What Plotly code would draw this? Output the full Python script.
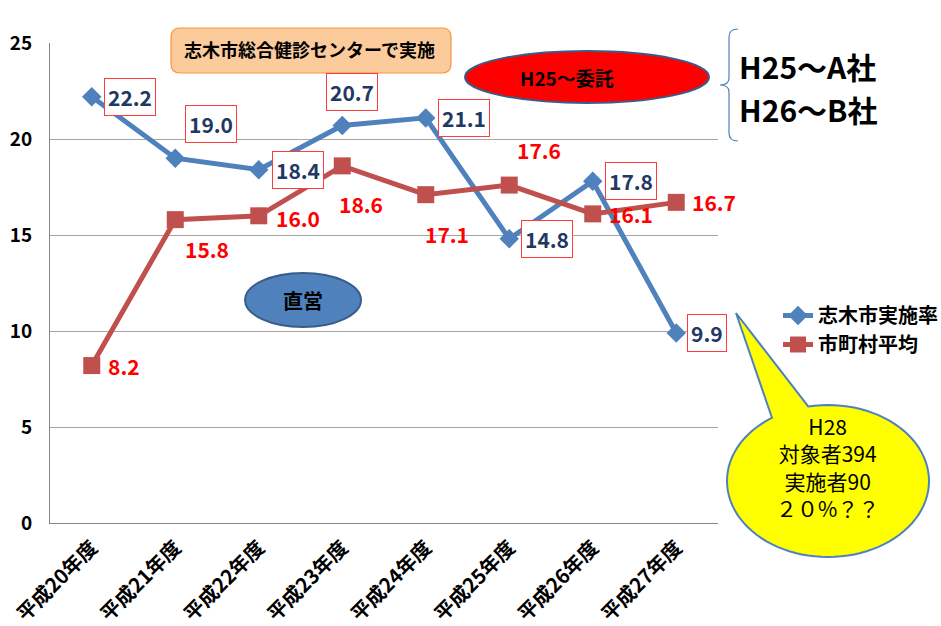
import math
import plotly.graph_objects as go

# ---- data ----
categories = ["平成20年度", "平成21年度", "平成22年度", "平成23年度",
              "平成24年度", "平成25年度", "平成26年度", "平成27年度"]
shiki_rate = [22.2, 19.0, 18.4, 20.7, 21.1, 14.8, 17.8, 9.9]
municipal_avg = [8.2, 15.8, 16.0, 18.6, 17.1, 17.6, 16.1, 16.7]
series_names = ["志木市実施率", "市町村平均"]
y_ticks = [0, 5, 10, 15, 20, 25]

# label offsets (pixels, yshift positive = up)
blue_offsets = [(38, 0), (36, 34), (39, 0), (10, 34), (38, 0), (38, 0), (38, 0), (31, 0)]
red_offsets = [(32, 0), (32, -29), (39, -2), (19, -38), (21, -39), (30, 35), (38, 0), (38, 0)]

W, H = 941, 626
L, R, T, B = 50, 223, 43, 103
PW, PH = W - L - R, H - T - B

def fx(px):
    return (px - L) / PW

def fy(py):
    return (H - B - py) / PH

FONT = "Noto Sans CJK JP, Noto Sans, sans-serif"
BLUE = "#4F81BD"
RED = "#C0504D"

fig = go.Figure()
fig.add_trace(go.Scatter(
    x=categories, y=shiki_rate, name=series_names[0], mode="lines+markers",
    line=dict(color=BLUE, width=5),
    marker=dict(symbol="diamond", size=15, color=BLUE),
))
fig.add_trace(go.Scatter(
    x=categories, y=municipal_avg, name=series_names[1], mode="lines+markers",
    line=dict(color=RED, width=5),
    marker=dict(symbol="square", size=17, color=RED),
))

annotations = []
for c, v, (dx, dy) in zip(categories, shiki_rate, blue_offsets):
    annotations.append(dict(
        x=c, y=v, xref="x", yref="y", text=f"<b>{v:.1f}</b>", showarrow=False,
        xanchor="center", yanchor="middle",
        xshift=dx, yshift=dy, font=dict(family=FONT, size=21, color="#1F3864"),
        bgcolor="white", bordercolor="#FF3B3B", borderwidth=1, borderpad=3,
    ))
for c, v, (dx, dy) in zip(categories, municipal_avg, red_offsets):
    annotations.append(dict(
        x=c, y=v, xref="x", yref="y", text=f"<b>{v:.1f}</b>", showarrow=False,
        xanchor="center", yanchor="middle",
        xshift=dx, yshift=dy, font=dict(family=FONT, size=21, color="#FF0000"),
    ))

def paper_text(px, py, text, size, bold=True, xanchor="center"):
    return dict(x=fx(px), y=fy(py), xref="paper", yref="paper",
                xanchor=xanchor, yanchor="middle",
                text=(f"<b>{text}</b>" if bold else text), showarrow=False,
                font=dict(family=FONT, size=size, color="black"))

shapes = []

# orange rounded box
def rounded_rect(x0, y0, x1, y1, r):
    return (f"M {fx(x0+r)},{fy(y0)} L {fx(x1-r)},{fy(y0)} Q {fx(x1)},{fy(y0)} {fx(x1)},{fy(y0+r)} "
            f"L {fx(x1)},{fy(y1-r)} Q {fx(x1)},{fy(y1)} {fx(x1-r)},{fy(y1)} "
            f"L {fx(x0+r)},{fy(y1)} Q {fx(x0)},{fy(y1)} {fx(x0)},{fy(y1-r)} "
            f"L {fx(x0)},{fy(y0+r)} Q {fx(x0)},{fy(y0)} {fx(x0+r)},{fy(y0)} Z")

shapes.append(dict(type="path", xref="paper", yref="paper",
                   path=rounded_rect(171, 28, 451, 73, 9),
                   fillcolor="#FBCB9C", line=dict(color="#F79646", width=1.2)))
annotations.append(paper_text(309, 49, "志木市総合健診センターで実施", 18))

# red ellipse
shapes.append(dict(type="circle", xref="paper", yref="paper",
                   x0=fx(465), x1=fx(709), y0=fy(103), y1=fy(51),
                   fillcolor="#FF0000", line=dict(color="#385D8A", width=2)))
annotations.append(paper_text(567, 78, "H25～委託", 19))

# blue ellipse
shapes.append(dict(type="circle", xref="paper", yref="paper",
                   x0=fx(245), x1=fx(361), y0=fy(327), y1=fy(273),
                   fillcolor=BLUE, line=dict(color="#385D8A", width=2)))
annotations.append(paper_text(303, 300, "直営", 20))

# brace
brace = (f"M {fx(738)},{fy(29)} Q {fx(729)},{fy(29)} {fx(729)},{fy(37)} "
         f"L {fx(729)},{fy(78)} Q {fx(729)},{fy(85)} {fx(720)},{fy(85)} "
         f"Q {fx(729)},{fy(85)} {fx(729)},{fy(92)} "
         f"L {fx(729)},{fy(133)} Q {fx(729)},{fy(141)} {fx(738)},{fy(141)}")
shapes.append(dict(type="path", xref="paper", yref="paper", path=brace,
                   line=dict(color=BLUE, width=1.2)))
annotations.append(paper_text(737, 66, "H25～A社", 30, xanchor="left"))
annotations.append(paper_text(737, 109, "H26～B社", 30, xanchor="left"))

# callout bubble
cx, cy, rx, ry = 828, 481, 101, 76
t_start, t_end = -101.3, 236.3
tip = (736, 313)
n = 90
pts = []
for i in range(n + 1):
    t = math.radians(t_start + (t_end - t_start) * i / n)
    pts.append((cx + rx * math.cos(t), cy + ry * math.sin(t)))
pts.append(tip)
path = "M " + " L ".join(f"{fx(px)},{fy(py)}" for px, py in pts) + " Z"
shapes.append(dict(type="path", xref="paper", yref="paper", path=path,
                   fillcolor="#FFFF00", line=dict(color=BLUE, width=2)))
annotations.append(paper_text(827, 467, "H28<br>対象者394<br>実施者90<br>２０%？？", 21, bold=False))

fig.update_layout(
    width=W, height=H, autosize=False,
    margin=dict(l=L, r=R, t=T, b=B, pad=0, autoexpand=False),
    paper_bgcolor="white", plot_bgcolor="white",
    font=dict(family=FONT, color="black"),
    showlegend=True,
    legend=dict(x=fx(778), y=fy(296), xanchor="left", yanchor="top",
                font=dict(family=FONT, size=20, color="black", weight="bold"),
                bgcolor="rgba(0,0,0,0)", itemwidth=30),
    annotations=annotations, shapes=shapes,
)
fig.update_xaxes(
    type="category", range=[-0.5, 7.5], showgrid=False, showline=True,
    linecolor="#868686", linewidth=1, ticks="", tickangle=-45, automargin=False,
    ticklabelstandoff=4,
    tickfont=dict(family=FONT, size=20, color="black", weight="bold"),
)
fig.update_yaxes(
    range=[0, 25], tickvals=y_ticks, showgrid=True, gridcolor="#A6A6A6", gridwidth=1,
    showline=True, linecolor="#868686", linewidth=1, zeroline=False, ticks="",
    ticklabelstandoff=13, automargin=False,
    tickfont=dict(family=FONT, size=19, color="black", weight="bold"),
)

fig.write_html(
    "out.html",
    config={"responsive": False, "displayModeBar": False},
    post_script="document.body.style.margin='0px';document.body.style.overflow='hidden';",
)
